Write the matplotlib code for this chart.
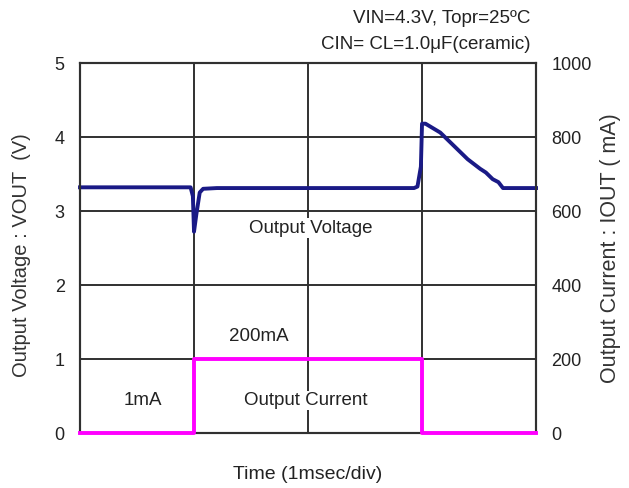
import numpy as np
import matplotlib.pyplot as plt

plt.rcParams['font.family'] = ['Liberation Sans', 'DejaVu Sans']

# time in divisions (1 msec/div)
t_vout = [0.0, 0.97, 0.99, 1.0, 1.02, 1.05, 1.08, 1.2, 2.0, 2.93, 2.96,
          2.99, 3.0, 3.03, 3.16, 3.26, 3.40, 3.51, 3.56, 3.62, 3.67, 3.71, 4.0]
vout = [3.32, 3.32, 3.2, 2.72, 2.95, 3.25, 3.30, 3.31, 3.31, 3.31, 3.33,
        3.6, 4.18, 4.18, 4.06, 3.91, 3.70, 3.57, 3.52, 3.43, 3.39, 3.31, 3.31]

t_iout = [0.0, 1.0, 1.0, 3.0, 3.0, 4.0]
iout = [1, 1, 200, 200, 1, 1]

fig = plt.figure(figsize=(6.29, 4.88), dpi=100)
ax = fig.add_axes([0.1272, 0.1127, 0.7250, 0.7582])
ax2 = ax.twinx()

edge = '#303030'
for a in (ax, ax2):
    for s in a.spines.values():
        s.set_color(edge)
        s.set_linewidth(1.5)

ax.set_xlim(0, 4)
ax.set_ylim(0, 5)
ax2.set_ylim(0, 1000)

# grid drawn by hand so it reads like the scope graticule
for xv in [1, 2, 3]:
    ax.axvline(xv, color=edge, lw=1.4, zorder=1)
for yv in [1, 2, 3, 4]:
    ax.axhline(yv, color=edge, lw=1.4, zorder=1)

ax.set_xticks([])
ax.set_yticks([0, 1, 2, 3, 4, 5])
ax2.set_yticks([0, 200, 400, 600, 800, 1000])
ax.tick_params(axis='y', length=0, pad=11, labelsize=13, labelcolor='#222222')
ax2.tick_params(axis='y', length=0, pad=11, labelsize=13, labelcolor='#222222')

ax.plot(t_vout, vout, color='#1a1a86', lw=2.8, zorder=5, clip_on=False,
        solid_joinstyle='round')
ax2.plot(t_iout, iout, color='#ff00ff', lw=2.8, zorder=5, clip_on=False)

ax.set_ylabel('Output Voltage : VOUT  (V)', fontsize=14.5, color='#333333')
ax.yaxis.set_label_coords(-0.107, 0.48)
ax2.set_ylabel('Output Current : IOUT ( mA)', fontsize=15.5, color='#333333',
               rotation=90)
ax2.yaxis.set_label_coords(1.14, 0.5)
ax.set_xlabel('Time (1msec/div)', fontsize=14, color='#222222', labelpad=24)

box = dict(facecolor='white', edgecolor='none', pad=1)
ax.text(2.02, 2.77, 'Output Voltage', ha='center', va='center', fontsize=13.5,
        color='#222222', bbox=box, zorder=3)
ax.text(1.57, 1.31, '200mA', ha='center', va='center', fontsize=13.5,
        color='#222222', zorder=3)
ax.text(0.55, 0.44, '1mA', ha='center', va='center', fontsize=13.5,
        color='#222222', zorder=3)
ax.text(1.98, 0.44, 'Output Current', ha='center', va='center', fontsize=13.5,
        color='#222222', bbox=box, zorder=3)

fig.text(0.843, 0.963, 'VIN=4.3V, Topr=25ºC', ha='right', va='center',
         fontsize=13.5, color='#222222')
fig.text(0.843, 0.908, 'CIN= CL=1.0μF(ceramic)', ha='right', va='center',
         fontsize=13.5, color='#222222')

fig.savefig('out.png', dpi=100)
